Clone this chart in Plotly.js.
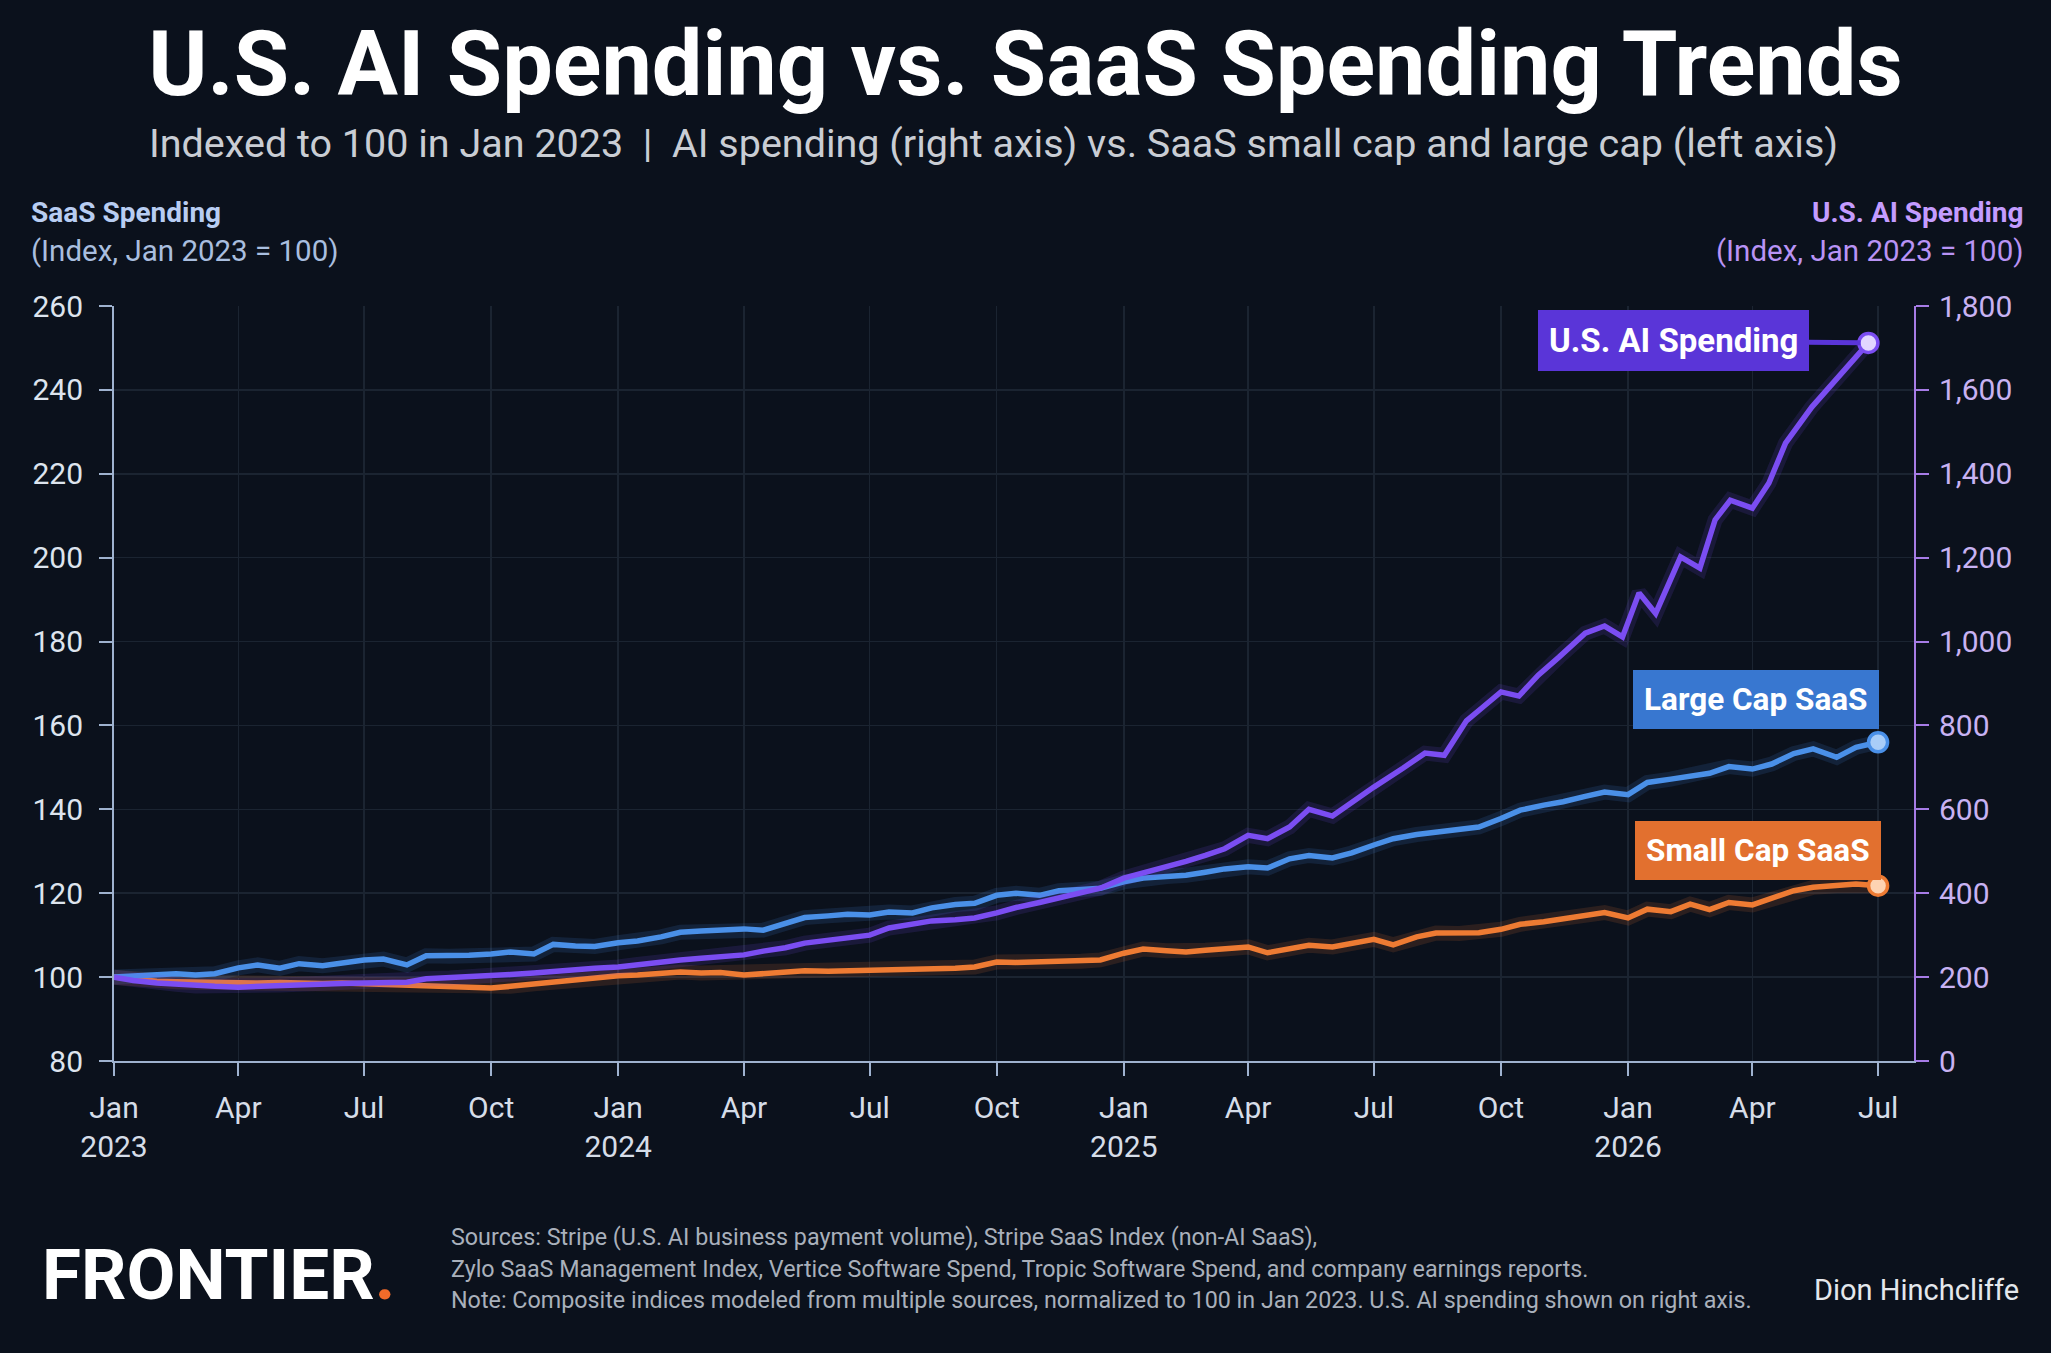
<!DOCTYPE html>
<html>
<head>
<meta charset="utf-8">
<script src="https://cdn.plot.ly/plotly-3.0.1.min.js"></script>
<style>
  html, body { margin: 0; padding: 0; background: #0b111c; }
  #chart { width: 2051px; height: 1353px; }
</style>
</head>
<body>
<div id="chart"></div>
<script>
// ---------------- DATA ----------------
// Semi-monthly observation dates (1st and 15th), Jan 2023 – Jul 2026
const dates = [];
for (let yr = 2023; yr <= 2026; yr++) {
  for (let m = 1; m <= 12; m++) {
    if (yr === 2026 && m > 7) break;
    const mm = String(m).padStart(2, '0');
    dates.push(yr + '-' + mm + '-01');
    if (!(yr === 2026 && m === 7)) dates.push(yr + '-' + mm + '-15');
  }
}

// Large Cap SaaS index (left axis)
const largeCap = [
  100,100.2,100.6,100.8,100.5,100.8,102.2,102.9,102.1,103.2,102.7,103.4,104.1,104.3,102.9,105.1,105.0,105.2,105.5,106.0,105.5,107.8,107.4,107.3,
  108.2,108.6,109.6,110.7,111.0,111.2,111.5,111.2,112.8,114.2,114.6,115.0,114.8,115.5,115.3,116.5,117.3,117.6,119.5,120.0,119.5,120.6,120.9,121.2,
  122.7,123.6,124.0,124.3,125.0,125.8,126.3,126.0,128.2,129.0,128.4,129.6,131.5,133.0,134.0,134.5,135.0,135.8,137.8,139.8,141.0,141.8,143.1,144.1,
  143.5,146.4,147.2,148.0,148.6,150.2,149.6,150.8,153.3,154.4,152.4,154.8,156.0
];

// Small Cap SaaS index (left axis)
const smallCap = [
  100,99.4,99.0,98.9,98.8,98.7,98.4,98.6,98.7,98.5,98.5,98.6,98.4,98.2,98.3,97.9,97.8,97.6,97.4,97.8,98.4,98.8,99.5,100.0,
  100.3,100.5,100.8,101.2,101.0,101.1,100.5,100.9,101.2,101.5,101.4,101.5,101.4,101.6,101.8,102.0,102.1,102.4,103.6,103.5,103.7,103.9,103.8,104.1,
  105.7,106.7,106.3,106.0,106.4,106.7,107.2,105.8,106.8,107.6,107.2,108.0,109.0,107.7,109.6,110.5,110.4,110.6,111.4,112.6,113.2,114.0,114.6,115.4,
  114.1,116.2,115.6,117.4,116.1,117.8,117.2,118.8,120.6,121.4,121.8,122.2,121.8
];

// U.S. AI spending index (right axis): semi-monthly until mid-2025, then observed dates
const aiEarly = [
  200,192,186,183,179,178,176,178,181,183,184,185,186,186,188,196,198,200,203,206,210,214,218,221,
  224,230,236,241,245,249,253,262,270,281,288,294,300,317,325,334,337,341,353,366,378,389,400,412,
  436,448,462,476,490,506,538,530,558,600,584,617
];
const aiLateDates = [
  '2025-07-01','2025-07-22','2025-08-07','2025-08-21','2025-09-06','2025-09-18','2025-10-01','2025-10-14',
  '2025-10-28','2025-11-12','2025-12-01','2025-12-15','2025-12-28','2026-01-09','2026-01-21','2026-02-08',
  '2026-02-22','2026-03-05','2026-03-16','2026-04-01','2026-04-13','2026-04-25','2026-05-14','2026-06-24'
];
const aiLate = [
  653,698,734,729,811,844,880,870,920,963,1020,1037,1011,1116,1067,1202,1175,1290,1337,1318,1378,1473,1559,1712
];
const aiDates = dates.slice(0, aiEarly.length).concat(aiLateDates);
const aiSpend = aiEarly.concat(aiLate);

// Axis ticks
const xTickVals = ['2023-01-01','2023-04-01','2023-07-01','2023-10-01','2024-01-01','2024-04-01','2024-07-01','2024-10-01',
                   '2025-01-01','2025-04-01','2025-07-01','2025-10-01','2026-01-01','2026-04-01','2026-07-01'];
const xTickText = ['Jan<br>2023','Apr','Jul','Oct','Jan<br>2024','Apr','Jul','Oct',
                   'Jan<br>2025','Apr','Jul','Oct','Jan<br>2026','Apr','Jul'];
const leftTicks = [80,100,120,140,160,180,200,220,240,260];
const rightTicks = [0,200,400,600,800,1000,1200,1400,1600,1800];

// ---------------- STYLE ----------------
const C = {
  bg: '#0b111c',
  ai: '#7b4df2', aiBox: '#5a35d8', aiFill: '#e2d6ff',
  lc: '#4a90e8', lcBox: '#3877d0', lcFill: '#a9cdf8',
  sc: '#ee7b33', scBox: '#e2702f', scFill: '#fdd3b2',
  grid: '#1b2431', axis: '#9fb2cf', axis2: '#a77ce6'
};
const FONT = 'Roboto, "Open Sans", sans-serif';

const L = 114, R = 1914, T = 306, B = 1061;
const px = v => (v - L) / (R - L);
const py = v => (B - v) / (B - T);

const last = a => a[a.length - 1];

function lineTrace(x, y, color, width, opacity, yaxis) {
  return { x, y, type: 'scatter', mode: 'lines', yaxis: yaxis || 'y',
           line: { color, width, shape: 'linear' }, opacity, hoverinfo: 'skip', showlegend: false };
}
function endMarker(x, y, color, fill, yaxis) {
  return { x: [last(x)], y: [last(y)], type: 'scatter', mode: 'markers', yaxis: yaxis || 'y',
           marker: { size: 19, color: fill, line: { color, width: 3.5 } }, hoverinfo: 'skip', showlegend: false };
}

const traces = [
  lineTrace(dates, smallCap, C.sc, 15, 0.14),
  lineTrace(dates, largeCap, C.lc, 15, 0.14),
  lineTrace(aiDates, aiSpend, C.ai, 15, 0.14, 'y2'),
  lineTrace(dates, smallCap, C.sc, 5.5, 1),
  lineTrace(dates, largeCap, C.lc, 5.5, 1),
  lineTrace(aiDates, aiSpend, C.ai, 5.5, 1, 'y2'),
  endMarker(dates, smallCap, C.sc, C.scFill),
  endMarker(dates, largeCap, C.lc, C.lcFill),
  endMarker(aiDates, aiSpend, C.ai, C.aiFill, 'y2')
];

function paperText(text, xp, yp, opts) {
  return Object.assign({
    text, xref: 'paper', yref: 'paper', x: px(xp), y: py(yp),
    xanchor: 'left', yanchor: 'middle', showarrow: false,
    font: { family: FONT, size: 27, color: '#ffffff' }
  }, opts || {});
}

const annotations = [
  paperText('Indexed to 100 in Jan 2023\u00a0\u00a0|\u00a0\u00a0AI spending (right axis) vs. SaaS small cap and large cap (left axis)',
            993, 143, { xanchor: 'center', font: { family: FONT, size: 39.5, color: '#c9cdd4' } }),
  paperText('<b>SaaS Spending</b>', 29, 213, { font: { family: FONT, size: 28, color: '#b8cdf2' } }),
  paperText('(Index, Jan 2023 = 100)', 29, 251, { font: { family: FONT, size: 29.5, color: '#a9bedf' } }),
  paperText('<b>U.S. AI Spending</b>', 2026, 213, { xanchor: 'right', font: { family: FONT, size: 28, color: '#c49cff' } }),
  paperText('(Index, Jan 2023 = 100)', 2026, 251, { xanchor: 'right', font: { family: FONT, size: 29.5, color: '#b993f5' } }),
  paperText('<b>FRONTIER</b><span style="color:#f26b2a"><b>.</b></span>', 40, 1274,
            { font: { family: FONT, size: 71, color: '#ffffff' } }),
  paperText('Sources: Stripe (U.S. AI business payment volume), Stripe SaaS Index (non-AI SaaS),', 449, 1237,
            { font: { family: FONT, size: 23.3, color: '#a9b0bb' } }),
  paperText('Zylo SaaS Management Index, Vertice Software Spend, Tropic Software Spend, and company earnings reports.', 449, 1269,
            { font: { family: FONT, size: 23.3, color: '#a9b0bb' } }),
  paperText('Note: Composite indices modeled from multiple sources, normalized to 100 in Jan 2023. U.S. AI spending shown on right axis.', 449, 1300,
            { font: { family: FONT, size: 23.3, color: '#a9b0bb' } }),
  paperText('Dion Hinchcliffe', 2021, 1290, { xanchor: 'right', font: { family: FONT, size: 29, color: '#e4e7ec' } }),

  // Series labels tied to the last data points
  { text: '<b>U.S. AI Spending</b>', x: last(aiDates), y: last(aiSpend), xref: 'x', yref: 'y2',
    showarrow: true, arrowhead: 0, arrowwidth: 5, arrowcolor: C.aiBox, ax: -195, ay: -2, standoff: 8,
    bgcolor: C.aiBox, bordercolor: C.aiBox, borderpad: 10,
    font: { family: FONT, size: 33, color: '#ffffff' } },
  { text: '<b>Large Cap SaaS</b>', x: last(dates), y: last(largeCap), xref: 'x', yref: 'y',
    showarrow: true, arrowhead: 0, arrowwidth: 1, arrowcolor: 'rgba(0,0,0,0)', ax: -122, ay: -43,
    bgcolor: C.lcBox, bordercolor: C.lcBox, borderpad: 10,
    font: { family: FONT, size: 31.5, color: '#ffffff' } },
  { text: '<b>Small Cap SaaS</b>', x: last(dates), y: last(smallCap), xref: 'x', yref: 'y',
    showarrow: true, arrowhead: 0, arrowwidth: 1, arrowcolor: 'rgba(0,0,0,0)', ax: -120, ay: -35,
    bgcolor: C.scBox, bordercolor: C.scBox, borderpad: 10,
    font: { family: FONT, size: 31.5, color: '#ffffff' } }
];

const layout = {
  width: 2051, height: 1353,
  paper_bgcolor: C.bg, plot_bgcolor: C.bg,
  margin: { l: L, r: 2051 - R, t: T, b: 1353 - B, pad: 0 },
  showlegend: false,
  hovermode: false,
  title: { text: '<b>U.S. AI Spending vs. SaaS Spending Trends</b>', xref: 'container', x: 0.5, xanchor: 'center',
           yref: 'container', y: 1 - 63 / 1353, yanchor: 'middle',
           font: { family: FONT, size: 90, color: '#ffffff' } },
  xaxis: {
    type: 'date', range: ['2023-01-01', '2026-07-27'],
    tickmode: 'array', tickvals: xTickVals, ticktext: xTickText,
    tickfont: { family: FONT, size: 30, color: '#d6dde8' },
    showline: true, linecolor: C.axis, linewidth: 2,
    ticks: 'outside', ticklen: 13, tickwidth: 2, tickcolor: C.axis,
    showgrid: true, gridcolor: C.grid, gridwidth: 1.5, zeroline: false,
    ticklabelstandoff: 6
  },
  yaxis: {
    range: [80, 260], tickmode: 'array', tickvals: leftTicks,
    tickfont: { family: FONT, size: 30, color: '#dde4ee' },
    showline: true, linecolor: C.axis, linewidth: 2,
    ticks: 'outside', ticklen: 13, tickwidth: 2, tickcolor: C.axis,
    showgrid: true, gridcolor: C.grid, gridwidth: 1.5, zeroline: false,
    ticklabelstandoff: 10
  },
  yaxis2: {
    range: [0, 1800], overlaying: 'y', side: 'right', tickmode: 'array', tickvals: rightTicks, tickformat: ',',
    tickfont: { family: FONT, size: 30, color: '#c8b2f2' },
    showline: true, linecolor: C.axis2, linewidth: 2,
    ticks: 'outside', ticklen: 13, tickwidth: 2, tickcolor: C.axis2,
    showgrid: false, zeroline: false, ticklabelstandoff: 4
  },
  annotations
};

Plotly.newPlot('chart', traces, layout, { staticPlot: true, displayModeBar: false });
</script>
</body>
</html>
